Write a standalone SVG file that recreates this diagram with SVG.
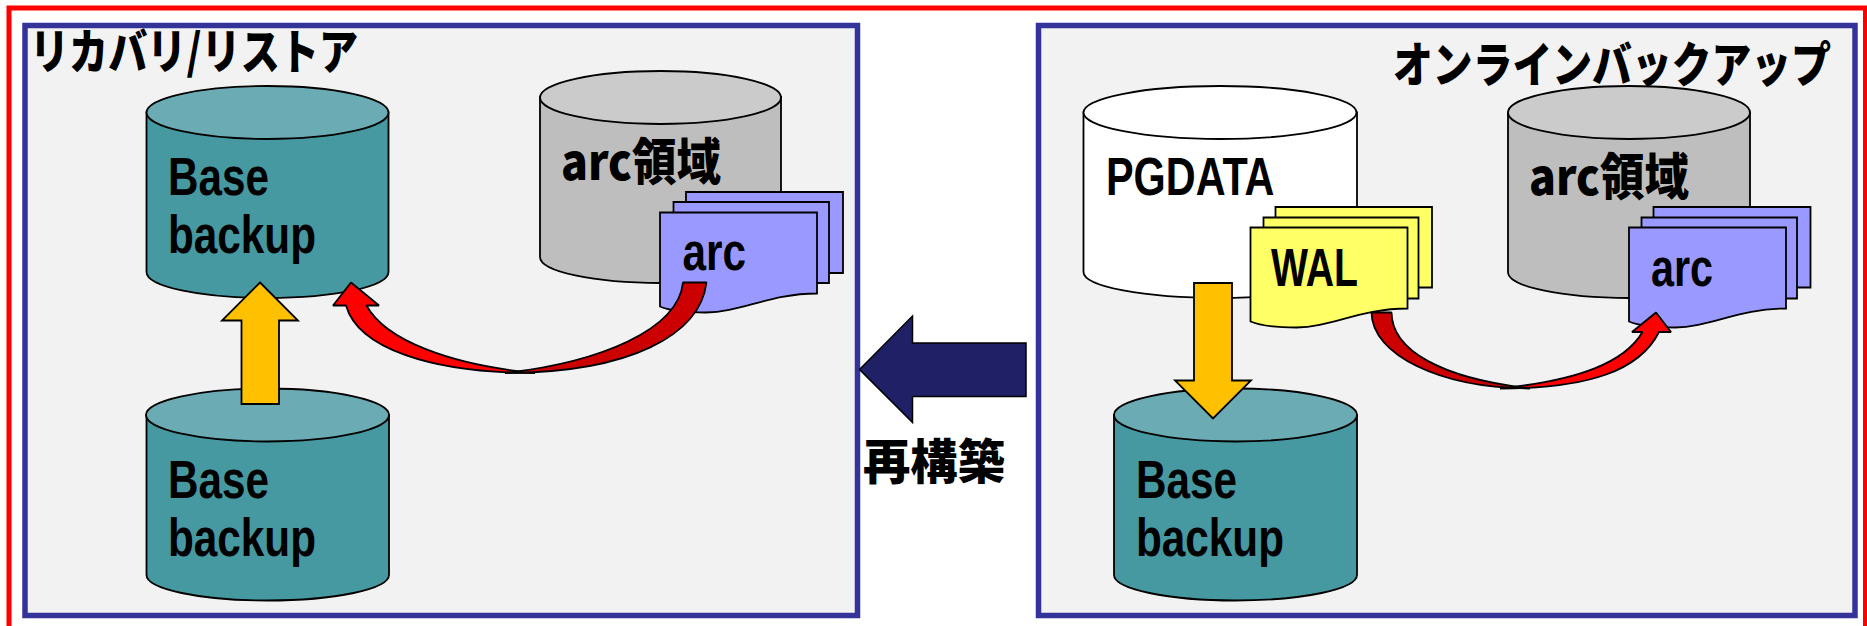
<svg xmlns="http://www.w3.org/2000/svg" width="1867" height="626" viewBox="0 0 1867 626">
<style>
.panel{fill:#f2f2f2;stroke:#333399;stroke-width:5.5}
.ln{stroke:#000;stroke-width:1.8}
.teal{fill:#4698a1}.tealtop{fill:#6babb3}
.gray{fill:#bebebe}.graytop{fill:#cbcbcb}
.white{fill:#fff}
.blue{fill:#9999ff}.yel{fill:#ffff66}
.t{font-family:"Liberation Sans",Arial,sans-serif;font-weight:700;font-size:53px;fill:#000}
.j{font-family:"Noto Sans CJK JP","Liberation Sans",sans-serif;font-weight:900;fill:#000}
.ya{fill:#ffc000}
.red{fill:#ff0000;stroke-linejoin:bevel}.dark{fill:#cc0000;stroke-linejoin:bevel}
</style>
<defs>
<path id="doc" d="M0,0H157V81C110,81 80,100 46,100C30,100 12,99 0,94Z"/>
</defs>
<rect width="1867" height="626" fill="#fff"/>
<rect x="9" y="8" width="1856.5" height="640" fill="none" stroke="#ff0000" stroke-width="5"/>
<g id="panel-recovery">
<rect class="panel" x="25" y="25.500" width="832.500" height="590"/>
<text class="j" x="30" y="69" font-size="48" textLength="328" lengthAdjust="spacingAndGlyphs">リカバリ/リストア</text>
</g>
<g id="panel-online">
<rect class="panel" x="1038.500" y="25.500" width="816.500" height="590"/>
<text class="j" x="1393" y="82" font-size="48" textLength="438" lengthAdjust="spacingAndGlyphs">オンラインバックアップ</text>
</g>
<g id="base-top">
<path class="teal ln" d="M146.500,112.500V272C146.500,286.500 200,298 267.500,298S388.500,286.500 388.500,272V112.500Z"/>
<ellipse class="tealtop ln" cx="267.500" cy="112.500" rx="121" ry="26.500"/>
<text class="t" x="168" y="195" textLength="101" lengthAdjust="spacingAndGlyphs">Base</text>
<text class="t" x="168" y="253" textLength="148" lengthAdjust="spacingAndGlyphs">backup</text>
</g>
<g id="arc-left">
<path class="gray ln" d="M540,97V257C540,271.500 594,283 660.500,283S781,271.500 781,257V97Z"/>
<ellipse class="graytop ln" cx="660.500" cy="97.500" rx="120.500" ry="26.500"/>
<text class="j" x="561" y="180" font-size="50" textLength="160" lengthAdjust="spacingAndGlyphs">arc領域</text>
</g>
<g id="base-bottom">
<path class="teal ln" d="M146.500,415V575C146.500,589 200,600.500 267.500,600.500S389,589 389,575V415Z"/>
<ellipse class="tealtop ln" cx="267.500" cy="415" rx="121.500" ry="26.500"/>
<text class="t" x="168" y="498" textLength="101" lengthAdjust="spacingAndGlyphs">Base</text>
<text class="t" x="168" y="556" textLength="148" lengthAdjust="spacingAndGlyphs">backup</text>
</g>
<g id="arc-docs-left">
<path class="blue ln" d="M686,192H843V273H686Z"/>
<path class="blue ln" d="M673.500,202H829V283H673.500Z"/>
<use href="#doc" x="660" y="212.500" class="blue ln"/>
<text class="t" x="682.500" y="270" textLength="63.500" lengthAdjust="spacingAndGlyphs">arc</text>
</g>
<g id="pgdata">
<path class="white ln" d="M1083.500,112.500V272C1083.500,286.500 1144,298 1220,298S1357,286.500 1357,272V112.500Z"/>
<ellipse class="white ln" cx="1220" cy="112.500" rx="136.500" ry="26.500"/>
<text class="t" x="1106" y="195" textLength="168.500" lengthAdjust="spacingAndGlyphs">PGDATA</text>
</g>
<g id="arc-right">
<path class="gray ln" d="M1508,112.500V272C1508,286.500 1562,298 1629,298S1750,286.500 1750,272V112.500Z"/>
<ellipse class="graytop ln" cx="1629" cy="112.500" rx="121" ry="26.500"/>
<text class="j" x="1529" y="195" font-size="50" textLength="160" lengthAdjust="spacingAndGlyphs">arc領域</text>
</g>
<g id="base-right">
<path class="teal ln" d="M1114,415V575C1114,589 1168,600.500 1235.500,600.500S1357,589 1357,575V415Z"/>
<ellipse class="tealtop ln" cx="1235.500" cy="415" rx="121.500" ry="26.500"/>
<text class="t" x="1136" y="498" textLength="101" lengthAdjust="spacingAndGlyphs">Base</text>
<text class="t" x="1136" y="556" textLength="148" lengthAdjust="spacingAndGlyphs">backup</text>
</g>
<g id="wal-docs">
<path class="yel ln" d="M1275.500,207H1432V287.500H1275.500Z"/>
<path class="yel ln" d="M1263.500,217.500H1418.500V298.500H1263.500Z"/>
<use href="#doc" x="1250.500" y="227.500" class="yel ln"/>
<text class="t" x="1271" y="286" textLength="87" lengthAdjust="spacingAndGlyphs">WAL</text>
</g>
<g id="arc-docs-right">
<path class="blue ln" d="M1653.500,207H1810.500V287.500H1653.500Z"/>
<path class="blue ln" d="M1641.500,217.500H1797V298.500H1641.500Z"/>
<use href="#doc" x="1629" y="227.500" class="blue ln"/>
<text class="t" x="1651" y="286" textLength="62" lengthAdjust="spacingAndGlyphs">arc</text>
</g>
<g id="connectors">
<path class="ya ln" d="M260,282.500L298,320.500H279V404H241.500V320.500H222Z"/>
<path class="ya ln" d="M1194,283H1232V380.500H1251L1213,418.500L1175,380.500H1194Z"/>
<path class="red ln" d="M351,282.500L379,305.500H366.500C385,340 450,365 535,373C430,373 358,348 346,305.500H333Z"/>
<path class="dark ln" d="M683,282.500H706.500C700,335 630,373 505,373C600,362 678,330 683,282.500Z"/>
<path class="red ln" d="M1656,312.500L1671,332H1659C1640,370 1590,388.500 1500,388.500C1580,380 1625,362 1642.500,332H1632Z"/>
<path class="dark ln" d="M1371.500,312.500H1391.500C1392,350 1440,378 1530,388.500C1440,388 1372,355 1371.500,312.500Z"/>
<path id="rebuild-arrow" fill="#1f2066" stroke="#000" stroke-width="1.500" d="M859.500,369.500L912.500,316V343H1026V396.500H912.500V422.500Z"/>
</g>
<text class="j" x="863" y="479" font-size="48" textLength="142" lengthAdjust="spacingAndGlyphs">再構築</text>
</svg>
